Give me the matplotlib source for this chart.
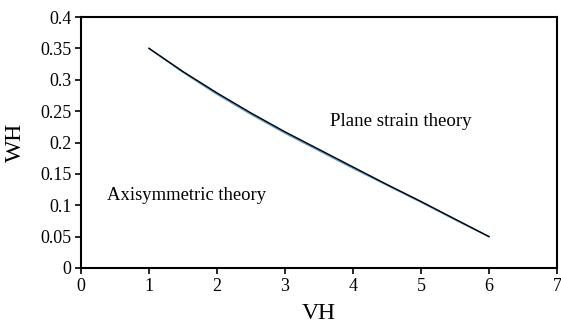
import numpy as np
import matplotlib.pyplot as plt

# VH values and the two WH curves (axisymmetric vs plane strain)
vh = [1.0, 1.5, 2.0, 2.5, 3.0, 3.5, 4.0, 4.5, 5.0, 5.5, 6.0]
wh_axisym = [0.350, 0.313, 0.279, 0.247, 0.217, 0.189, 0.161, 0.133, 0.106, 0.078, 0.050]
wh_plane = [0.350, 0.312, 0.277, 0.245, 0.215, 0.187, 0.159, 0.132, 0.105, 0.077, 0.050]

x_ticks = [0, 1, 2, 3, 4, 5, 6, 7]
y_ticks = [0, 0.05, 0.1, 0.15, 0.2, 0.25, 0.3, 0.35, 0.4]
y_tick_labels = ['0', '0.05', '0.1', '0.15', '0.2', '0.25', '0.3', '0.35', '0.4']

plt.rcParams['font.family'] = ['Liberation Serif', 'DejaVu Serif']

fig = plt.figure(figsize=(5.61, 3.26), dpi=100)
ax = fig.add_axes([81 / 561, 1 - 268 / 326, 476 / 561, 251 / 326])

ax.plot(vh, wh_plane, color='#5b9bd5', lw=1.2)
ax.plot(vh, wh_axisym, color='black', lw=1.0)

ax.text(3.66, 0.234, 'Plane strain theory', fontsize=13.6, va='center', ha='left')
ax.text(0.38, 0.116, 'Axisymmetric theory', fontsize=13.4, va='center', ha='left')

ax.set_xlim(0, 7)
ax.set_ylim(0, 0.4)
ax.set_xticks(x_ticks)
ax.set_yticks(y_ticks)
ax.set_yticklabels(y_tick_labels)
ax.tick_params(direction='out', length=4, width=1.2, labelsize=13, pad=3)

for side in ax.spines.values():
    side.set_linewidth(1.5)

ax.set_xlabel('VH', fontsize=17, labelpad=6)
ax.set_ylabel('WH', fontsize=17, labelpad=10)

fig.savefig('out.png', dpi=100)
